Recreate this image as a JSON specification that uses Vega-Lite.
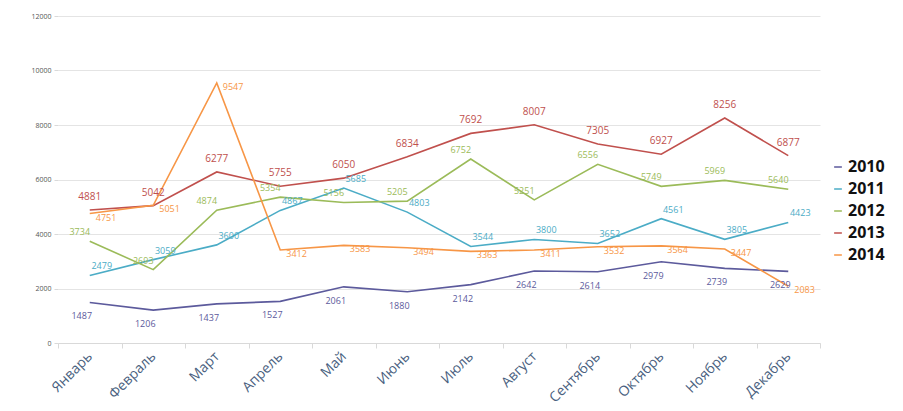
{
  "$schema": "https://vega.github.io/schema/vega-lite/v6.json",
  "autosize": {"type": "none"},
  "width": 762,
  "height": 327,
  "padding": {"left": 58, "top": 16, "right": 83, "bottom": 68},
  "background": "white",
  "config": {"view": {"stroke": null}, "font": "Open Sans"},
  "data": {"values": [
    {"m": "Январь", "y": "2010", "v": 1487}, {"m": "Февраль", "y": "2010", "v": 1206}, {"m": "Март", "y": "2010", "v": 1437}, {"m": "Апрель", "y": "2010", "v": 1527}, {"m": "Май", "y": "2010", "v": 2061}, {"m": "Июнь", "y": "2010", "v": 1880}, {"m": "Июль", "y": "2010", "v": 2142}, {"m": "Август", "y": "2010", "v": 2642}, {"m": "Сентябрь", "y": "2010", "v": 2614}, {"m": "Октябрь", "y": "2010", "v": 2979}, {"m": "Ноябрь", "y": "2010", "v": 2739}, {"m": "Декабрь", "y": "2010", "v": 2629},
    {"m": "Январь", "y": "2011", "v": 2479}, {"m": "Февраль", "y": "2011", "v": 3059}, {"m": "Март", "y": "2011", "v": 3600}, {"m": "Апрель", "y": "2011", "v": 4867}, {"m": "Май", "y": "2011", "v": 5685}, {"m": "Июнь", "y": "2011", "v": 4803}, {"m": "Июль", "y": "2011", "v": 3544}, {"m": "Август", "y": "2011", "v": 3800}, {"m": "Сентябрь", "y": "2011", "v": 3652}, {"m": "Октябрь", "y": "2011", "v": 4561}, {"m": "Ноябрь", "y": "2011", "v": 3805}, {"m": "Декабрь", "y": "2011", "v": 4423},
    {"m": "Январь", "y": "2012", "v": 3734}, {"m": "Февраль", "y": "2012", "v": 2693}, {"m": "Март", "y": "2012", "v": 4874}, {"m": "Апрель", "y": "2012", "v": 5354}, {"m": "Май", "y": "2012", "v": 5156}, {"m": "Июнь", "y": "2012", "v": 5205}, {"m": "Июль", "y": "2012", "v": 6752}, {"m": "Август", "y": "2012", "v": 5251}, {"m": "Сентябрь", "y": "2012", "v": 6556}, {"m": "Октябрь", "y": "2012", "v": 5749}, {"m": "Ноябрь", "y": "2012", "v": 5969}, {"m": "Декабрь", "y": "2012", "v": 5640},
    {"m": "Январь", "y": "2013", "v": 4881}, {"m": "Февраль", "y": "2013", "v": 5042}, {"m": "Март", "y": "2013", "v": 6277}, {"m": "Апрель", "y": "2013", "v": 5755}, {"m": "Май", "y": "2013", "v": 6050}, {"m": "Июнь", "y": "2013", "v": 6834}, {"m": "Июль", "y": "2013", "v": 7692}, {"m": "Август", "y": "2013", "v": 8007}, {"m": "Сентябрь", "y": "2013", "v": 7305}, {"m": "Октябрь", "y": "2013", "v": 6927}, {"m": "Ноябрь", "y": "2013", "v": 8256}, {"m": "Декабрь", "y": "2013", "v": 6877},
    {"m": "Январь", "y": "2014", "v": 4751}, {"m": "Февраль", "y": "2014", "v": 5051}, {"m": "Март", "y": "2014", "v": 9547}, {"m": "Апрель", "y": "2014", "v": 3412}, {"m": "Май", "y": "2014", "v": 3583}, {"m": "Июнь", "y": "2014", "v": 3494}, {"m": "Июль", "y": "2014", "v": 3363}, {"m": "Август", "y": "2014", "v": 3411}, {"m": "Сентябрь", "y": "2014", "v": 3532}, {"m": "Октябрь", "y": "2014", "v": 3564}, {"m": "Ноябрь", "y": "2014", "v": 3447}, {"m": "Декабрь", "y": "2014", "v": 2083}
  ]},
  "encoding": {
    "x": {"field": "m", "type": "nominal", "sort": ["Январь", "Февраль", "Март", "Апрель", "Май", "Июнь", "Июль", "Август", "Сентябрь", "Октябрь", "Ноябрь", "Декабрь"],
      "scale": {"paddingInner": 0, "paddingOuter": 0},
      "axis": {"title": null, "labelAngle": -45, "labelFontSize": 14, "labelColor": "#4a5f80", "labelAlign": "right", "labelBaseline": "middle", "labelPadding": 6, "domainColor": "#d9d9d9", "tickColor": "#d9d9d9", "tickBand": "extent", "tickSize": 5, "grid": false}},
    "y": {"field": "v", "type": "quantitative", "scale": {"domain": [0, 12000], "nice": false},
      "axis": {"title": null, "values": [0, 2000, 4000, 6000, 8000, 10000, 12000], "format": "d", "labelFontSize": 7, "labelColor": "#555555", "domain": false, "tickColor": "#d9d9d9", "tickSize": 4, "gridColor": "#e4e4e4", "labelPadding": 3}},
    "color": {"field": "y", "type": "nominal",
      "scale": {"domain": ["2010", "2011", "2012", "2013", "2014"], "range": ["#5c5a9c", "#4bacc6", "#9bbb59", "#c0504d", "#f79646"]},
      "legend": {"title": null, "orient": "none", "legendX": 772, "legendY": 143, "symbolType": "stroke", "symbolSize": 60, "symbolStrokeWidth": 1.5, "labelFontSize": 16, "labelFontWeight": "bold", "labelColor": "#111111", "rowPadding": 6, "labelOffset": 2}}
  },
  "layer": [
    {"mark": {"type": "line", "strokeWidth": 1.6}},
    {"mark": {"type": "text", "fontSize": 9, "dy": 14, "dx": -8}, "transform": [{"filter": "datum.y == '2010'"}], "encoding": {"text": {"field": "v"}}},
    {"mark": {"type": "text", "fontSize": 9, "dy": -9, "dx": 12}, "transform": [{"filter": "datum.y == '2011'"}], "encoding": {"text": {"field": "v"}}},
    {"mark": {"type": "text", "fontSize": 9, "dy": -9, "dx": -10}, "transform": [{"filter": "datum.y == '2012'"}], "encoding": {"text": {"field": "v"}}},
    {"mark": {"type": "text", "fontSize": 10, "dy": -13}, "transform": [{"filter": "datum.y == '2013'"}], "encoding": {"text": {"field": "v"}}},
    {"mark": {"type": "text", "fontSize": 9, "dy": 4, "dx": 6, "align": "left"}, "transform": [{"filter": "datum.y == '2014'"}], "encoding": {"text": {"field": "v"}}}
  ]
}
